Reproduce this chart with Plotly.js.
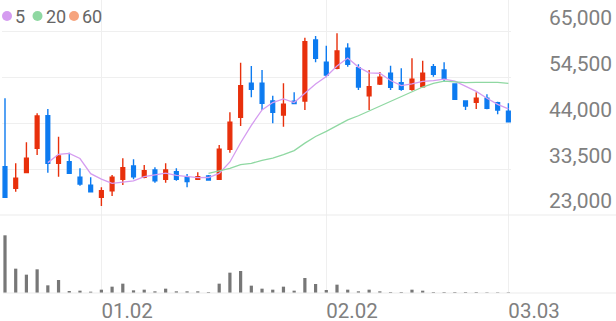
<!DOCTYPE html>
<html><head><meta charset="utf-8">
<script src="https://cdn.plot.ly/plotly-3.0.1.min.js"></script>
<style>html,body{margin:0;padding:0;background:#fff;overflow:hidden}#chart{width:616px;height:321px}</style>
</head><body><div id="chart"></div>
<script>
// ---- data ----
const dates = ['2025-12-17','2025-12-18','2025-12-19','2025-12-22','2025-12-23','2025-12-24','2025-12-26','2025-12-29','2025-12-30',
  '2026-01-02','2026-01-05','2026-01-06','2026-01-07','2026-01-08','2026-01-09','2026-01-12','2026-01-13','2026-01-14','2026-01-15','2026-01-16',
  '2026-01-19','2026-01-20','2026-01-21','2026-01-22','2026-01-23','2026-01-26','2026-01-27','2026-01-28','2026-01-29','2026-01-30',
  '2026-02-02','2026-02-03','2026-02-04','2026-02-05','2026-02-06','2026-02-09','2026-02-10','2026-02-11','2026-02-12','2026-02-13',
  '2026-02-19','2026-02-20','2026-02-23','2026-02-24','2026-02-25','2026-02-26','2026-02-27','2026-03-03'];
const open  = [34070,29120,32700,38290,45760,34850,35220,31640,29810,27060,28570,31190,34230,31640,33320,31190,32930,31640,31190,31940,
  31190,38060,45390,53180,53180,49120,45920,49060,49120,63100,57990,56620,61200,56750,50340,53020,55470,53320,51800,52400,
  56980,56230,53020,49120,48830,49740,48730,46760];
const high  = [49750,34850,39660,46300,47290,40940,37280,33700,31640,29350,32170,36000,35770,34460,33930,34850,33700,32400,32790,32170,
  39040,46540,57900,57140,56230,50340,53180,51120,63630,64020,61790,64630,62340,57530,56230,55770,57210,56620,58910,58360,
  57600,57990,53180,49300,51120,50660,48960,48600];
const low   = [27060,28340,32560,36750,32700,31780,32560,29720,28340,25070,27360,29880,31190,31410,30410,30410,30860,29350,31030,30860,
  31190,37280,43400,49970,47060,44010,43240,48440,47060,57990,54550,56390,56980,51640,47060,52800,51640,51480,51480,52260,
  54690,53550,49350,47060,47290,47220,46080,44380];
const close = [27060,31410,36000,45690,34850,36520,32560,30110,28340,28570,31640,33840,31780,33160,30860,33320,31190,30640,31780,31030,
  38060,44240,52630,51800,48600,46540,48370,48510,62710,58910,55080,60580,57530,52330,52400,54550,52260,51800,54100,55470,
  55240,54100,49510,47980,49740,47450,47060,44380];
const volume = [173000,73000,55000,71000,23000,39000,6000,7000,4000,10000,19000,28000,8000,10000,5000,13000,5000,5000,5000,3000,
  28000,61000,66000,22000,13000,10000,19000,7000,45000,27000,9000,25000,10000,5000,10000,5000,3000,3000,10000,7000,
  3000,3000,3000,3000,3000,2000,2000,2000];
// moving averages as drawn (5-day line starts at the 5th session, 20-day line at the 20th)
const ma5 = [35002,36894,37124,35946,32476,31220,30244,30500,30834,31798,32256,32592,32062,31834,31558,31592,32540,35150,39548,43552,
  47066,48762,49588,48764,50946,53008,54716,57158,58962,56886,55584,55478,53814,52668,53022,53636,53774,54142,53684,52460,
  51314,49756,48348,47322];
const ma20 = [32518,33068,33709,34541,34846,35534,36035,36825,37745,39464,40981,42153,43490,44777,45736,46813,47874,48928,49986,51102,
  52324,53183,53676,53520,53329,53386,53431,53366,53159];
const tickDates  = ['2026-01-02','2026-02-02','2026-03-03'];
const tickLabels = ['01.02','02.02','03.03'];
const priceTicks = [23000,33500,44000,54500,65000];
const priceTickLabels = ['23,000','33,500','44,000','54,500','65,000'];
const legendNames = ['5','20','60'];

// ---- styles ----
const RED = '#e8300c', BLUE = '#0d7bf0', GRAY = '#777777';
const MA_COLORS = ['#d59cf0', '#8fd8a2', '#f6a47e'];
const W = 616, H = 321, mL = 2, mR = 105, mT = 0, mB = 28;
const plotW = W - mL - mR, plotH = H - mT - mB;
const sepPx = 215;                       // pixel y of the price/volume separator
const split = (H - mB - sepPx) / plotH;  // paper y of separator
const px2x = p => (p - mL) / plotW;
const px2y = p => (H - mB - p) / plotH;

const traces = [
  {type:'candlestick', x:dates, open:open, high:high, low:low, close:close, xaxis:'x', yaxis:'y',
   increasing:{line:{color:RED,width:1.4}, fillcolor:RED},
   decreasing:{line:{color:BLUE,width:1.4}, fillcolor:BLUE},
   whiskerwidth:0, showlegend:false, hoverinfo:'skip'},
  {type:'scatter', mode:'lines', x:dates.slice(dates.length - ma5.length), y:ma5, xaxis:'x', yaxis:'y',
   line:{color:MA_COLORS[0], width:1.3}, showlegend:false, hoverinfo:'skip'},
  {type:'scatter', mode:'lines', x:dates.slice(dates.length - ma20.length), y:ma20, xaxis:'x', yaxis:'y',
   line:{color:MA_COLORS[1], width:1.3}, showlegend:false, hoverinfo:'skip'},
  {type:'bar', x:dates, y:volume, xaxis:'x', yaxis:'y2', marker:{color:GRAY}, width:0.3,
   showlegend:false, hoverinfo:'skip'}
];

const shapes = [
  {type:'line', xref:'paper', yref:'paper', x0:-0.01, x1:(W - mL) / plotW, y0:split, y1:split, line:{color:'#ececec', width:1.2}},
  {type:'line', xref:'paper', yref:'paper', x0:px2x(3), x1:(W - mL) / plotW, y0:0, y1:0, line:{color:'#ececec', width:1.2}}
];
const legendX = [7, 37.5, 74];
const annotations = [];
legendNames.forEach((n, i) => {
  shapes.push({type:'circle', xref:'paper', yref:'paper', xsizemode:'pixel', ysizemode:'pixel',
    xanchor:px2x(legendX[i]), yanchor:px2y(16), x0:-5, x1:5, y0:-5, y1:5,
    fillcolor:MA_COLORS[i], line:{width:0}});
  annotations.push({xref:'paper', yref:'paper', x:px2x(legendX[i] + 6), y:px2y(16), xanchor:'left', yanchor:'middle',
    text:n, showarrow:false, font:{family:'Roboto', size:18, color:'#666666'}});
});

const layout = {
  width:W, height:H, margin:{l:mL, r:mR, t:mT, b:mB, pad:0},
  paper_bgcolor:'#ffffff', plot_bgcolor:'#ffffff', showlegend:false,
  boxgap:0.5,
  xaxis:{type:'category', range:[-0.28, 47.246], anchor:'y2', tickmode:'array', tickvals:tickDates, ticktext:tickLabels,
    showgrid:true, gridcolor:'#efefef', gridwidth:1, zeroline:false, showline:false, ticks:'',
    ticklabelposition:'outside right', ticklabelstandoff:3, rangeslider:{visible:false},
    tickfont:{family:'Roboto', size:20.5, color:'#808080'}, fixedrange:true},
  yaxis:{domain:[split, 1], range:[23000, 72263], side:'right', tickmode:'array', tickvals:priceTicks, ticktext:priceTickLabels,
    showgrid:true, gridcolor:'#efefef', gridwidth:1, zeroline:false, showline:false, ticks:'',
    ticklabelstandoff:37, ticklabelshift:-14,
    tickfont:{family:'Roboto', size:21, color:'#808080'}, fixedrange:true},
  yaxis2:{domain:[0, split], range:[0, 233900], showgrid:false, zeroline:false, showticklabels:false, ticks:'', fixedrange:true},
  shapes:shapes, annotations:annotations, font:{family:'Roboto'}
};
Plotly.newPlot('chart', traces, layout, {staticPlot:true, displayModeBar:false});
</script></body></html>
